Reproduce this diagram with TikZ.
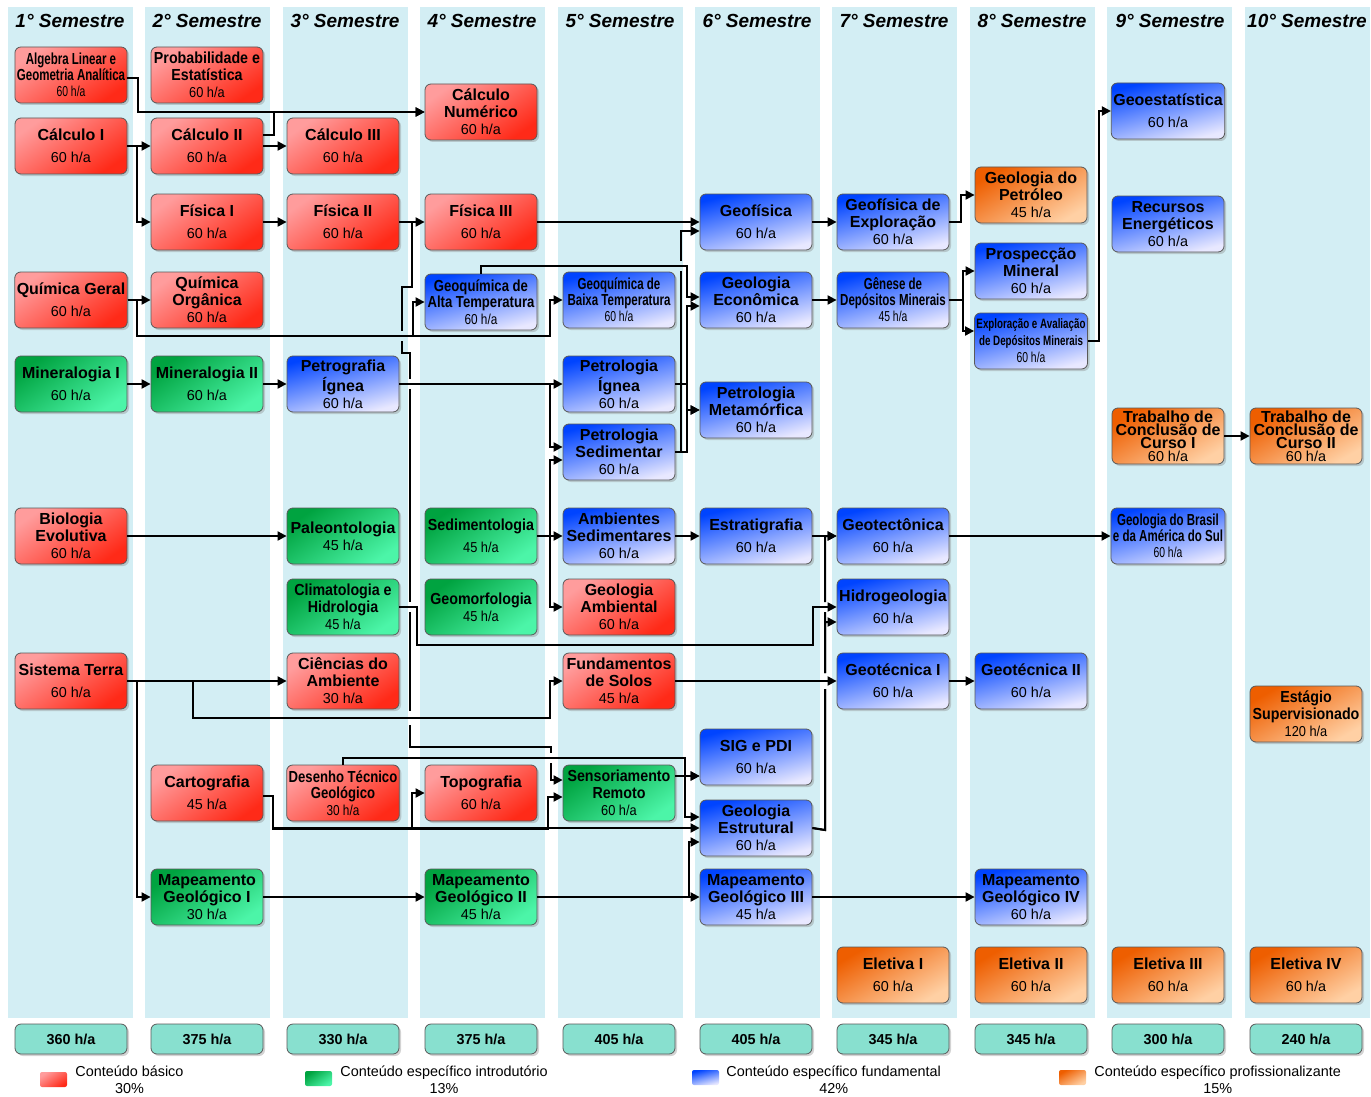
\documentclass[tikz,border=0pt]{standalone}
\usepackage{fontspec}
\setmainfont{Liberation Sans}
\newfontfamily\narrowA[FakeStretch=0.72]{Liberation Sans}
\newfontfamily\narrowB[FakeStretch=0.82]{Liberation Sans}
\newfontfamily\narrowC[FakeStretch=0.89]{Liberation Sans}
\usetikzlibrary{arrows.meta, shadows}

\definecolor{faixa}{HTML}{D3EEF4}
\definecolor{vermA}{HTML}{FF9C9C}
\definecolor{vermB}{HTML}{FF2A18}
\definecolor{verdeA}{HTML}{00A340}
\definecolor{verdeB}{HTML}{4CF5A8}
\definecolor{azulA}{HTML}{0044FF}
\definecolor{azulB}{HTML}{E8E8FF}
\definecolor{larA}{HTML}{EE5E00}
\definecolor{larB}{HTML}{FFD0A4}
\definecolor{totalc}{HTML}{88E0CF}

\newcommand\ha[1]{{\mdseries\fontsize{7.2}{8}\selectfont #1 h/a}}

\begin{document}
\begin{tikzpicture}[x=0.5pt, y=-0.5pt,
    >={Triangle[length=4.5pt,width=4.5pt]},
    seta/.style={->, line width=1pt},
    corB/.style={top color=vermA, bottom color=vermB, shading angle=35},
    corI/.style={top color=verdeA, bottom color=verdeB, shading angle=35},
    corF/.style={top color=azulA, bottom color=azulB, shading angle=15},
    corP/.style={top color=larA, bottom color=larB, shading angle=30},
    materia/.style={draw=black!65, rounded corners=3pt, minimum width=56pt,
      minimum height=28pt, inner sep=1pt, align=center,
      font=\bfseries\fontsize{8}{8.5}\selectfont,
      drop shadow={shadow xshift=1pt, shadow yshift=-1pt, opacity=.35}},
    basico/.style={materia, corB},
    introd/.style={materia, corI},
    fundam/.style={materia, corF},
    profis/.style={materia, corP},
    estreitoA/.style={font=\narrowA\bfseries\fontsize{8}{8}\selectfont},
    estreitoB/.style={font=\narrowB\bfseries\fontsize{8}{8.3}\selectfont},
    estreitoC/.style={font=\narrowC\bfseries\fontsize{8}{8.5}\selectfont},
    total/.style={draw=black!65, fill=totalc, rounded corners=3pt,
      minimum width=56pt, minimum height=15pt, inner sep=1pt,
      font=\bfseries\fontsize{7.2}{8}\selectfont,
      drop shadow={shadow xshift=1pt, shadow yshift=-1pt, opacity=.35}},
    cabec/.style={font=\bfseries\itshape\fontsize{9.5}{10}\selectfont},
    amostra/.style={rounded corners=1pt, minimum width=13.5pt,
      minimum height=7.5pt, inner sep=0pt},
    legenda/.style={align=center, inner sep=0pt,
      font=\fontsize{7.2}{8.5}\selectfont}]

  \useasboundingbox (0,0) rectangle (1371,1097);

  % Faixas dos semestres
  \foreach \i in {0,...,9}
    \fill[faixa] ({8+137.4*\i},7) rectangle ++(125,1011);
  \foreach \x [count=\i] in {70,207,345,482,620,757,894,1032,1170,1307}
    \node[cabec] (sem\i) at (\x,21) {\i° Semestre};

  % 1o semestre
  \node[basico, estreitoA] (alg) at (71,75) {Algebra Linear e\\Geometria Analítica\\\ha{60}};
  \node[basico] (calcI) at (71,146) {Cálculo I\\[2.5pt]\ha{60}};
  \node[basico] (quimG) at (71,300) {Química Geral\\[2.5pt]\ha{60}};
  \node[introd] (minI) at (71,384) {Mineralogia I\\[2.5pt]\ha{60}};
  \node[basico] (bio) at (71,536) {Biologia\\Evolutiva\\\ha{60}};
  \node[basico] (sist) at (71,681) {Sistema Terra\\[2.5pt]\ha{60}};

  % 2o semestre
  \node[basico, estreitoC] (prob) at (207,75) {Probabilidade e\\Estatística\\\ha{60}};
  \node[basico] (calcII) at (207,146) {Cálculo II\\[2.5pt]\ha{60}};
  \node[basico] (fisI) at (207,222) {Física I\\[2.5pt]\ha{60}};
  \node[basico] (quimO) at (207,300) {Química\\Orgânica\\\ha{60}};
  \node[introd] (minII) at (207,384) {Mineralogia II\\[2.5pt]\ha{60}};
  \node[basico] (cart) at (207,793) {Cartografia\\[2.5pt]\ha{45}};
  \node[introd] (mapI) at (207,897) {Mapeamento\\Geológico I\\\ha{30}};

  % 3o semestre
  \node[basico] (calcIII) at (343,146) {Cálculo III\\[2.5pt]\ha{60}};
  \node[basico] (fisII) at (343,222) {Física II\\[2.5pt]\ha{60}};
  \node[fundam] (petrog) at (343,384) {Petrografia\\Ígnea\\\ha{60}};
  \node[introd] (paleo) at (343,536) {Paleontologia\\\ha{45}};
  \node[introd, estreitoC] (clima) at (343,607) {Climatologia e\\Hidrologia\\\ha{45}};
  \node[basico] (cienc) at (343,681) {Ciências do\\Ambiente\\\ha{30}};
  \node[basico, estreitoB] (desenho) at (343,793) {Desenho Técnico\\Geológico\\\ha{30}};

  % 4o semestre
  \node[basico] (calcN) at (481,112) {Cálculo\\Numérico\\\ha{60}};
  \node[basico] (fisIII) at (481,222) {Física III\\[2.5pt]\ha{60}};
  \node[fundam, estreitoB] (gqAlta) at (481,302) {Geoquímica de\\Alta Temperatura\\\ha{60}};
  \node[introd, estreitoC] (sedim) at (481,536) {Sedimentologia\\[2.5pt]\ha{45}};
  \node[introd, estreitoC] (geomorf) at (481,607) {Geomorfologia\\\ha{45}};
  \node[basico] (topo) at (481,793) {Topografia\\[2.5pt]\ha{60}};
  \node[introd] (mapII) at (481,897) {Mapeamento\\Geológico II\\\ha{45}};

  % 5o semestre
  \node[fundam, estreitoA] (gqBaixa) at (619,300) {Geoquímica de\\Baixa Temperatura\\\ha{60}};
  \node[fundam] (petIg) at (619,384) {Petrologia\\Ígnea\\\ha{60}};
  \node[fundam] (petSed) at (619,452) {Petrologia\\Sedimentar\\\ha{60}};
  \node[fundam] (ambSed) at (619,536) {Ambientes\\Sedimentares\\\ha{60}};
  \node[basico] (geoAmb) at (619,607) {Geologia\\Ambiental\\\ha{60}};
  \node[basico] (fundSolos) at (619,681) {Fundamentos\\de Solos\\\ha{45}};
  \node[introd, estreitoC] (sensor) at (619,793) {Sensoriamento\\Remoto\\\ha{60}};

  % 6o semestre
  \node[fundam] (geofis) at (756,222) {Geofísica\\[2.5pt]\ha{60}};
  \node[fundam] (geoEcon) at (756,300) {Geologia\\Econômica\\\ha{60}};
  \node[fundam] (petMet) at (756,410) {Petrologia\\Metamórfica\\\ha{60}};
  \node[fundam] (estrat) at (756,536) {Estratigrafia\\[2.5pt]\ha{60}};
  \node[fundam] (sig) at (756,757) {SIG e PDI\\[2.5pt]\ha{60}};
  \node[fundam] (geoEstr) at (756,828) {Geologia\\Estrutural\\\ha{60}};
  \node[fundam] (mapIII) at (756,897) {Mapeamento\\Geológico III\\\ha{45}};

  % 7o semestre
  \node[fundam] (geofExp) at (893,222) {Geofísica de\\Exploração\\\ha{60}};
  \node[fundam, estreitoA] (genese) at (893,300) {Gênese de\\Depósitos Minerais\\\ha{45}};
  \node[fundam] (geotect) at (893,536) {Geotectônica\\[2.5pt]\ha{60}};
  \node[fundam] (hidro) at (893,607) {Hidrogeologia\\[2.5pt]\ha{60}};
  \node[fundam] (geotecI) at (893,681) {Geotécnica I\\[2.5pt]\ha{60}};
  \node[profis] (eletI) at (893,975) {Eletiva I\\[2.5pt]\ha{60}};

  % 8o semestre
  \node[profis] (petroleo) at (1031,195) {Geologia do\\Petróleo\\\ha{45}};
  \node[fundam] (prosp) at (1031,271) {Prospecção\\Mineral\\\ha{60}};
  \node[fundam, font=\narrowA\bfseries\fontsize{6.8}{8.5}\selectfont] (explor) at (1031,341)
    {Exploração e Avaliação\\de Depósitos Minerais\\\ha{60}};
  \node[fundam] (geotecII) at (1031,681) {Geotécnica II\\[2.5pt]\ha{60}};
  \node[fundam] (mapIV) at (1031,897) {Mapeamento\\Geológico IV\\\ha{60}};
  \node[profis] (eletII) at (1031,975) {Eletiva II\\[2.5pt]\ha{60}};

  % 9o semestre
  \node[fundam] (geoest) at (1168,111) {Geoestatística\\[2.5pt]\ha{60}};
  \node[fundam] (recursos) at (1168,224) {Recursos\\Energéticos\\\ha{60}};
  \node[profis, font=\bfseries\fontsize{8}{6.5}\selectfont] (tccI) at (1168,436)
    {Trabalho de\\Conclusão de\\Curso I\\\ha{60}};
  \node[fundam, estreitoA] (brasil) at (1168,536) {Geologia do Brasil\\e da América do Sul\\\ha{60}};
  \node[profis] (eletIII) at (1168,975) {Eletiva III\\[2.5pt]\ha{60}};

  % 10o semestre
  \node[profis, font=\bfseries\fontsize{8}{6.5}\selectfont] (tccII) at (1306,436)
    {Trabalho de\\Conclusão de\\Curso II\\\ha{60}};
  \node[profis, estreitoC] (estagio) at (1306,714) {Estágio\\Supervisionado\\\ha{120}};
  \node[profis] (eletIV) at (1306,975) {Eletiva IV\\[2.5pt]\ha{60}};

  % Cargas horarias por semestre
  \foreach \x/\h [count=\i] in {71/360,207/375,343/330,481/375,619/405,
      756/405,893/345,1031/345,1168/300,1306/240}
    \node[total] (tot\i) at (\x,1039) {\h{} h/a};

  % Pre-requisitos: calculo e fisica
  \draw[seta] ([yshift=-1.5pt]alg.east) -- (138,78) |- (calcN.west);
  \draw[seta] ([yshift=5.5pt]calcII.east) -- (274,135) |- (calcN.west);
  \draw[seta] (calcI) -- (calcII);
  \draw[seta] (calcI.east) -- (137,146) |- (fisI.west);
  \draw[seta] (calcII) -- (calcIII);
  \draw[seta] (fisI) -- (fisII);
  \draw[seta] (fisII) -- (fisIII);
  \draw[seta] (fisIII) -- (geofis);
  \draw[seta] (fisII.east) -- (412,222) -- (412,287) -- (402,287) -- (402,331)
    (402,341) -- (402,353) -- (410,353) -- (410,379) (410,389) -- (410,602)
    (410,612) -- (410,711) (410,725) -- (410,747) -- (551,747) -- (551,753)
    (551,763) |- ([yshift=6.5pt]sensor.west);

  % Pre-requisitos: quimica
  \draw[seta] (quimG) -- (quimO);
  \draw[seta] (quimG.east) -- (137,300) |- (413,336) |- (gqAlta.west);
  \draw[seta] (quimG.east) -- (137,300) |- (550,336) |- (gqBaixa.west);
  \draw[seta] (gqAlta.north) |- (687,266) |- ([yshift=1.5pt]geoEcon.west);

  % Pre-requisitos: mineralogia e petrologia
  \draw[seta] (minI) -- (minII);
  \draw[seta] (minII) -- (petrog);
  \draw[seta] (petrog) -- (petIg);
  \draw[seta] (petrog.east) -- (550,384) |- ([yshift=2.5pt]petSed.west);
  \draw[seta] (sedim) -- (ambSed);
  \draw[seta] (sedim.east) -- (550,536) |- ([yshift=-4pt]petSed.west);
  \draw[seta] (sedim.east) -- (550,536) |- (geoAmb.west);
  \draw[seta] (petIg.east) -- (687,384) |- (petMet.west);
  \draw[seta] (petSed.east) -- (687,452) |- (petMet.west);
  \draw[seta] (petIg.east) -- (687,384) |- ([yshift=-3pt]geoEcon.west);
  \draw[seta] (petSed.east) -- (681,452) -- (681,271) (681,261)
    |- ([yshift=-4.5pt]geofis.west);

  % Pre-requisitos: geologia economica e geofisica
  \draw[seta] (geofis) -- (geofExp);
  \draw[seta] (geoEcon) -- (genese);
  \draw[seta] (geofExp.east) -- (961,222) |- (petroleo.west);
  \draw[seta] (genese.east) -- (963,300) |- (prosp.west);
  \draw[seta] (genese.east) -- (963,300) |- ([yshift=5pt]explor.west);
  \draw[seta] (explor.east) -- (1099,341) |- (geoest.west);
  \draw[seta] (tccI) -- (tccII);

  % Pre-requisitos: estratigrafia e geotectonica
  \draw[seta] (bio) -- (paleo);
  \draw[seta] (ambSed) -- (estrat);
  \draw[seta] (estrat) -- (geotect);
  \draw[seta] (geotect) -- (brasil);
  \draw[seta] (clima.east) -- (417,607) |- (813,645) |- (hidro.west);
  \draw[seta] (geoEstr.east) -- (825,830) -- (825,689) (825,673)
    |- ([yshift=-7.5pt]hidro.west);
  \draw[seta] (geoEstr.east) -- (825,830) -- (825,689) (825,673) -- (825,612)
    (825,602) |- (geotect.west);

  % Pre-requisitos: sistema terra, solos e geotecnica
  \draw[seta] (sist) -- (cienc);
  \draw[seta] (sist.east) -- (193,681) |- (550,718) |- (fundSolos.west);
  \draw[seta] (sist.east) -- (137,681) |- (mapI.west);
  \draw[seta] (fundSolos) -- (geotecI);
  \draw[seta] (geotecI) -- (geotecII);

  % Pre-requisitos: mapeamento e cartografia
  \draw[seta] (mapI) -- (mapII);
  \draw[seta] (mapII) -- (mapIII);
  \draw[seta] (mapIII) -- (mapIV);
  \draw[seta] (mapII.east) -- (689,897) |- ([yshift=-7pt]geoEstr.west);
  \draw[seta] ([yshift=-1.5pt]cart.east) -- (273,796) |- (412,829) |- (topo.west);
  \draw[seta] ([yshift=-1.5pt]cart.east) -- (273,796) |- (548,829)
    |- ([yshift=-2pt]sensor.west);
  \draw[seta] ([yshift=-1.5pt]cart.east) -- (273,796) |- (geoEstr.west);
  \draw[seta] (desenho.north) |- (685,758) |- ([yshift=-9.5pt]sig.west);
  \draw[seta] ([yshift=8.5pt]sensor.east) -- ([yshift=-9.5pt]sig.west);
  \draw[seta] ([yshift=8.5pt]sensor.east) -- (685,776)
    |- ([yshift=5.5pt]geoEstr.west);

  % Legenda
  \node[amostra, corB] (swBas) at (53.5,1079.5) {};
  \node[legenda, anchor=west] (legBas) at (75,1079.5) {Conteúdo básico\\30\%};
  \node[amostra, corI] (swInt) at (318.5,1078.5) {};
  \node[legenda, anchor=west] (legInt) at (340,1080) {Conteúdo específico introdutório\\13\%};
  \node[amostra, corF] (swFun) at (705.5,1077.5) {};
  \node[legenda, anchor=west] (legFun) at (726,1079.5) {Conteúdo específico fundamental\\42\%};
  \node[amostra, corP] (swPro) at (1072.5,1077.5) {};
  \node[legenda, anchor=west] (legPro) at (1094,1079.5) {Conteúdo específico profissionalizante\\15\%};

\end{tikzpicture}
\end{document}
